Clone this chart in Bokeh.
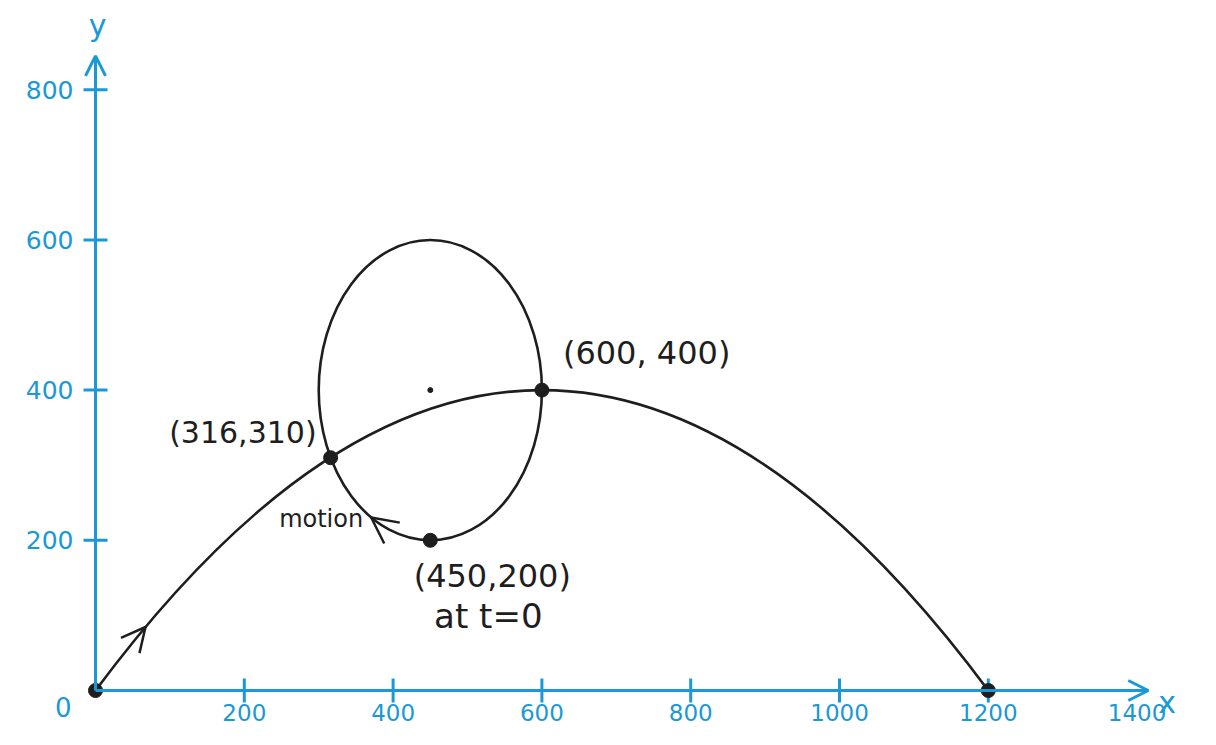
import numpy as np
from bokeh.plotting import figure
from bokeh.models import Arrow, OpenHead, Range1d
from bokeh.core.properties import value
from bokeh.embed import file_html
from bokeh.resources import INLINE

# ---------------- data ----------------
x_ticks = [200, 400, 600, 800, 1000, 1200]
x_label_values = [200, 400, 600, 800, 1000, 1200, 1400]
x_tick_labels = ["200", "400", "600", "800", "1000", "1200", "1400"]
y_ticks = [200, 400, 600, 800]
y_tick_labels = ["200", "400", "600", "800"]

launch_xy = [0, 0]        # projectile start
landing_xy = [1200, 0]    # projectile lands
peak_xy = [600, 400]      # top of trajectory / right of ellipse
crossing_xy = [316, 310]  # trajectory meets ellipse
t0_xy = [450, 200]        # ellipse object at t=0

axis_x_end = 1415
axis_y_end = 845

point_x = [launch_xy[0], crossing_xy[0], peak_xy[0], t0_xy[0], landing_xy[0]]
point_y = [launch_xy[1], crossing_xy[1], peak_xy[1], t0_xy[1], landing_xy[1]]

# ---------------- style ----------------
BLUE = "#1b98d6"
INK = "#1e1e1e"
FONT = value("DejaVu Sans")

p = figure(width=1200, height=729,
           x_range=Range1d(-127.7, 1485.2), y_range=Range1d(-51.9, 918.8),
           x_axis_type=None, y_axis_type=None,
           output_backend="svg", toolbar_location=None, min_border=0)
p.grid.visible = False
p.outline_line_color = None
p.background_fill_color = "white"

# ---- hand-drawn style axes ----
for xe, ye in [(axis_x_end, 0), (0, axis_y_end)]:
    p.add_layout(Arrow(end=OpenHead(size=20, line_color=BLUE, line_width=3),
                       x_start=0, y_start=0, x_end=xe, y_end=ye,
                       line_color=BLUE, line_width=3))

p.scatter(x=x_ticks, y=[0] * len(x_ticks), marker="dash", size=24, angle=np.pi / 2,
          line_color=BLUE, line_width=3)
p.scatter(x=[0] * len(y_ticks), y=y_ticks, marker="dash", size=24,
          line_color=BLUE, line_width=3)

p.text(x=x_label_values, y=[0] * len(x_label_values), text=x_tick_labels,
       x_offset=0, y_offset=22, text_align="center", text_baseline="middle",
       text_font=FONT, text_font_size="23px", text_color=BLUE)
p.text(x=[0] * len(y_ticks), y=y_ticks, text=y_tick_labels,
       x_offset=-22, y_offset=0, text_align="right", text_baseline="middle",
       text_font=FONT, text_font_size="25px", text_color=BLUE)

p.text(x=[0], y=[0], text=["0"], x_offset=-24, y_offset=16,
       text_align="right", text_baseline="middle",
       text_font=FONT, text_font_size="26px", text_color=BLUE)
p.text(x=[axis_x_end], y=[0], text=["x"], x_offset=10, y_offset=12,
       text_align="left", text_baseline="middle",
       text_font=FONT, text_font_size="30px", text_color=BLUE)
p.text(x=[0], y=[axis_y_end], text=["y"], x_offset=2, y_offset=-30,
       text_align="center", text_baseline="middle",
       text_font=FONT, text_font_size="30px", text_color=BLUE)

# ---- trajectory (parabola through launch, peak, landing) ----
p.quadratic(x0=[launch_xy[0]], y0=[launch_xy[1]],
            x1=[landing_xy[0]], y1=[landing_xy[1]],
            cx=[peak_xy[0]], cy=[2 * peak_xy[1] - (launch_xy[1] + landing_xy[1]) / 2],
            line_color=INK, line_width=2.6)

# ---- elliptical path ----
ecx, ecy = t0_xy[0], peak_xy[1]
ea, eb = peak_xy[0] - t0_xy[0], peak_xy[1] - t0_xy[1]
p.ellipse(x=[ecx], y=[ecy], width=[2 * ea], height=[2 * eb],
          fill_color=None, line_color=INK, line_width=2.6)
p.scatter(x=[ecx], y=[ecy], size=5, color=INK)

# key points
p.scatter(x=point_x, y=point_y, size=14, color=INK)

# direction arrow on trajectory
def bez(t):
    cy = 2 * peak_xy[1]
    x = (1 - t) ** 2 * launch_xy[0] + 2 * (1 - t) * t * peak_xy[0] + t ** 2 * landing_xy[0]
    y = (1 - t) ** 2 * launch_xy[1] + 2 * (1 - t) * t * cy + t ** 2 * landing_xy[1]
    return x, y

sx0, sy0 = bez(0.045)
sx1, sy1 = bez(0.056)
p.add_layout(Arrow(end=OpenHead(size=24, line_color=INK, line_width=2.5),
                   x_start=sx0, y_start=sy0, x_end=sx1, y_end=sy1,
                   line_alpha=0))

# motion arrow on ellipse (clockwise from the bottom)
th0, th1 = np.deg2rad(244), np.deg2rad(238)
mx0, my0 = ecx + ea * np.cos(th0), ecy + eb * np.sin(th0)
mx1, my1 = ecx + ea * np.cos(th1), ecy + eb * np.sin(th1)
p.add_layout(Arrow(end=OpenHead(size=26, line_color=INK, line_width=2.5),
                   x_start=mx0, y_start=my0, x_end=mx1, y_end=my1,
                   line_alpha=0))
p.text(x=[mx1], y=[my1], text=["motion"], x_offset=-8, y_offset=2,
       text_align="right", text_baseline="middle",
       text_font=FONT, text_font_size="24px", text_color=INK)

# ---- point labels ----
p.text(x=[crossing_xy[0]], y=[crossing_xy[1]], text=["(316,310)"],
       x_offset=-14, y_offset=-25, text_align="right", text_baseline="middle",
       text_font=FONT, text_font_size="30px", text_color=INK)
p.text(x=[peak_xy[0]], y=[peak_xy[1]], text=["(600, 400)"],
       x_offset=21, y_offset=-37, text_align="left", text_baseline="middle",
       text_font=FONT, text_font_size="32px", text_color=INK)
p.text(x=[t0_xy[0]], y=[t0_xy[1]], text=["(450,200)"],
       x_offset=62, y_offset=36, text_align="center", text_baseline="middle",
       text_font=FONT, text_font_size="32px", text_color=INK)
p.text(x=[t0_xy[0]], y=[t0_xy[1]], text=["at t=0"],
       x_offset=58, y_offset=76, text_align="center", text_baseline="middle",
       text_font=FONT, text_font_size="34px", text_color=INK)

open("out.html", "w").write(file_html(p, INLINE))
